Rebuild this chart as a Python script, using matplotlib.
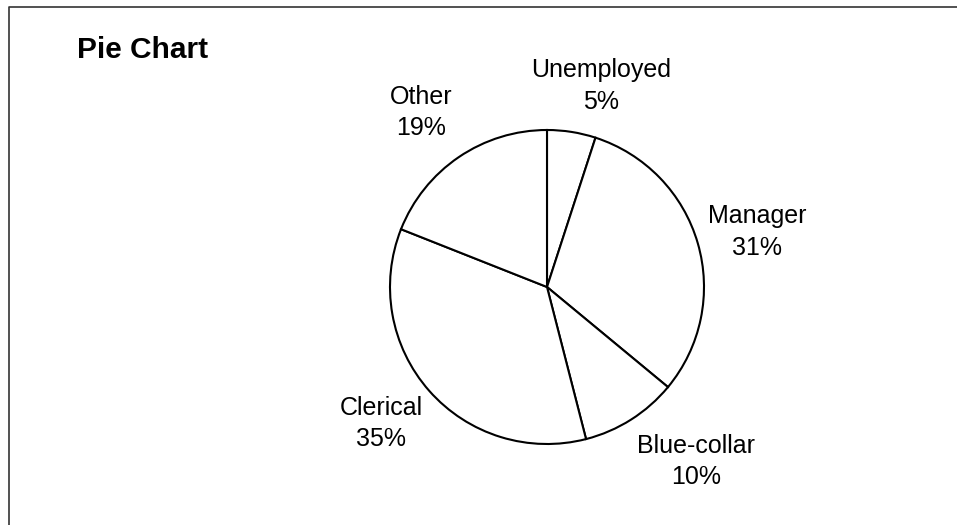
import matplotlib
matplotlib.use("Agg")
import matplotlib.pyplot as plt
from matplotlib.lines import Line2D

plt.rcParams['font.family'] = ['Liberation Sans', 'DejaVu Sans']

categories = ["Unemployed", "Manager", "Blue-collar", "Clerical", "Other"]
shares = [5, 31, 10, 35, 19]
pct_labels = ["5%", "31%", "10%", "35%", "19%"]

# label centre positions in units of pie radius (layout only)
label_pos = [(0.344, 1.28), (1.338, 0.35), (0.949, -1.11), (-1.057, -0.87), (-0.803, 1.11)]

W, H, DPI = 957, 525, 100
fig = plt.figure(figsize=(W / DPI, H / DPI), dpi=DPI)
fig.patch.set_facecolor('white')

ax = fig.add_axes([0, 0, 1, 1])
R = 157.0
cx, cy = 547.0, 287.0
ax.pie(shares, startangle=90, counterclock=False, radius=1.0,
       colors=['white'] * len(shares),
       wedgeprops=dict(edgecolor='black', linewidth=1.5))
ax.set_xlim(-cx / R, (W - cx) / R)
ax.set_ylim(-(H - cy) / R, cy / R)
ax.set_aspect('equal')
ax.axis('off')

for cat, pct, (lx, ly) in zip(categories, pct_labels, label_pos):
    ax.text(lx, ly, f"{cat}\n{pct}", ha='center', va='center',
            multialignment='center', fontsize=18, linespacing=1.38,
            color='black')

# frame lines (top and left)
fig.add_artist(Line2D([8.5 / W, 8.5 / W, 1.0], [0.0, 1 - 7 / H, 1 - 7 / H],
                      transform=fig.transFigure, color='#333333', linewidth=1.2))

fig.text(77 / W, 1 - 58 / H, "Pie Chart", fontsize=21.5, fontweight='bold',
         ha='left', va='baseline', color='black')

fig.savefig("out.png", dpi=DPI, facecolor='white')
